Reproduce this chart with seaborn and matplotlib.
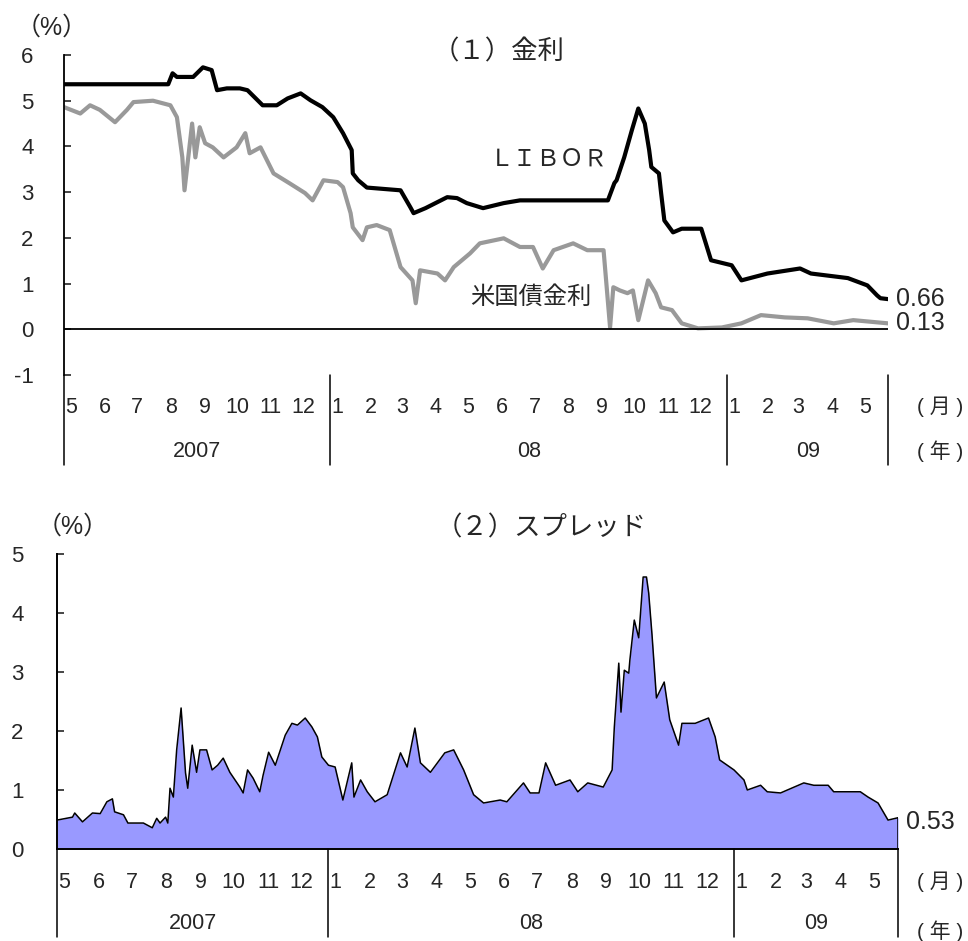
import pandas as pd
import numpy as np
import matplotlib
matplotlib.use('Agg')
import matplotlib.pyplot as plt
import matplotlib.dates as mdates
import matplotlib.transforms as mtransforms
import seaborn as sns

sns.set_style('white')
plt.rcParams['font.family'] = ['Liberation Sans', 'Noto Sans CJK JP']
plt.rcParams['axes.unicode_minus'] = False

# ---- data ----
libor_dates = ['2007-05-01', '2007-08-05', '2007-08-09', '2007-08-13', '2007-08-28', '2007-09-06',
               '2007-09-14', '2007-09-19', '2007-09-28', '2007-10-10', '2007-10-17', '2007-10-31',
               '2007-11-13', '2007-11-23', '2007-12-05', '2007-12-14', '2007-12-25', '2008-01-04',
               '2008-01-13', '2008-01-21', '2008-01-22', '2008-01-27', '2008-02-04', '2008-03-06',
               '2008-03-15', '2008-03-18', '2008-03-29', '2008-04-18', '2008-04-27', '2008-05-06',
               '2008-05-21', '2008-06-09', '2008-06-24', '2008-09-13', '2008-09-19', '2008-09-21',
               '2008-09-28', '2008-10-05', '2008-10-11', '2008-10-17', '2008-10-21', '2008-10-23',
               '2008-10-30', '2008-11-01', '2008-11-04', '2008-11-12', '2008-11-20', '2008-12-08',
               '2008-12-17', '2009-01-05', '2009-01-14', '2009-02-07', '2009-03-09', '2009-03-19',
               '2009-04-22', '2009-05-10', '2009-05-19', '2009-05-22', '2009-05-29']
libor_vals = [5.36, 5.36, 5.60, 5.52, 5.52, 5.73,
              5.67, 5.23, 5.27, 5.27, 5.23, 4.90,
              4.90, 5.05, 5.16, 5.01, 4.86, 4.64,
              4.29, 3.92, 3.41, 3.26, 3.10, 3.04,
              2.67, 2.54, 2.65, 2.89, 2.87, 2.76,
              2.65, 2.76, 2.82, 2.82, 3.20, 3.26,
              3.76, 4.35, 4.83, 4.50, 3.92, 3.55,
              3.41, 2.98, 2.38, 2.12, 2.20, 2.20,
              1.51, 1.40, 1.07, 1.22, 1.33, 1.22,
              1.12, 0.96, 0.74, 0.68, 0.66]

tbill_dates = ['2007-05-01', '2007-05-16', '2007-05-25', '2007-06-03', '2007-06-17', '2007-06-28',
               '2007-07-04', '2007-07-22', '2007-08-07', '2007-08-13', '2007-08-18', '2007-08-20',
               '2007-08-27', '2007-08-30', '2007-09-03', '2007-09-08', '2007-09-15', '2007-09-25',
               '2007-10-07', '2007-10-15', '2007-10-19', '2007-10-29', '2007-11-10', '2007-11-25',
               '2007-12-09', '2007-12-16', '2007-12-26', '2008-01-08', '2008-01-13', '2008-01-20',
               '2008-01-22', '2008-01-31', '2008-02-04', '2008-02-13', '2008-02-25', '2008-03-06',
               '2008-03-17', '2008-03-20', '2008-03-24', '2008-04-09', '2008-04-16', '2008-04-24',
               '2008-05-09', '2008-05-18', '2008-06-09', '2008-06-24', '2008-07-06', '2008-07-15',
               '2008-07-25', '2008-08-12', '2008-08-25', '2008-09-09', '2008-09-15', '2008-09-18',
               '2008-09-24', '2008-10-01', '2008-10-06', '2008-10-11', '2008-10-20', '2008-10-27',
               '2008-11-01', '2008-11-11', '2008-11-20', '2008-12-05', '2008-12-27', '2009-01-14',
               '2009-02-01', '2009-02-23', '2009-03-16', '2009-04-09', '2009-04-27', '2009-05-29']
tbill_vals = [4.86, 4.72, 4.90, 4.80, 4.53, 4.80,
              4.97, 5.00, 4.90, 4.64, 3.76, 3.04,
              4.50, 3.76, 4.42, 4.07, 3.98, 3.76,
              3.98, 4.29, 3.85, 3.98, 3.41, 3.19,
              2.98, 2.82, 3.26, 3.22, 3.11, 2.54,
              2.23, 1.95, 2.23, 2.28, 2.17, 1.36,
              1.07, 0.57, 1.29, 1.22, 1.07, 1.36,
              1.66, 1.88, 1.99, 1.80, 1.80, 1.33,
              1.73, 1.88, 1.73, 1.73, 0.04, 0.92,
              0.85, 0.79, 0.85, 0.20, 1.07, 0.79,
              0.48, 0.42, 0.13, 0.02, 0.04, 0.13,
              0.31, 0.26, 0.24, 0.13, 0.20, 0.13]

spread_dates = ['2007-05-01', '2007-05-15', '2007-05-17', '2007-05-24', '2007-06-02', '2007-06-09',
                '2007-06-15', '2007-06-20', '2007-06-22', '2007-06-30', '2007-07-04', '2007-07-18',
                '2007-07-26', '2007-07-30', '2007-08-02', '2007-08-07', '2007-08-09', '2007-08-11',
                '2007-08-14', '2007-08-17', '2007-08-21', '2007-08-25', '2007-08-27', '2007-08-31',
                '2007-09-04', '2007-09-07', '2007-09-13', '2007-09-18', '2007-09-23', '2007-09-28',
                '2007-10-04', '2007-10-13', '2007-10-16', '2007-10-20', '2007-10-25', '2007-10-31',
                '2007-11-03', '2007-11-08', '2007-11-14', '2007-11-23', '2007-11-29', '2007-12-04',
                '2007-12-11', '2007-12-17', '2007-12-22', '2007-12-26', '2008-01-01', '2008-01-07',
                '2008-01-14', '2008-01-22', '2008-01-24', '2008-01-30', '2008-02-05', '2008-02-12',
                '2008-02-23', '2008-03-06', '2008-03-12', '2008-03-19', '2008-03-24', '2008-04-02',
                '2008-04-15', '2008-04-23', '2008-05-02', '2008-05-11', '2008-05-20', '2008-06-04',
                '2008-06-10', '2008-06-25', '2008-07-01', '2008-07-09', '2008-07-15', '2008-07-24',
                '2008-08-06', '2008-08-13', '2008-08-22', '2008-09-05', '2008-09-13', '2008-09-15',
                '2008-09-19', '2008-09-21', '2008-09-24', '2008-09-28', '2008-09-29', '2008-10-03',
                '2008-10-07', '2008-10-11', '2008-10-14', '2008-10-16', '2008-10-19', '2008-10-23',
                '2008-10-30', '2008-11-04', '2008-11-12', '2008-11-15', '2008-11-27', '2008-12-09',
                '2008-12-15', '2008-12-19', '2009-01-01', '2009-01-10', '2009-01-13', '2009-01-25',
                '2009-01-31', '2009-02-12', '2009-03-05', '2009-03-14', '2009-03-27', '2009-04-01',
                '2009-04-25', '2009-05-02', '2009-05-11', '2009-05-20', '2009-05-29']
spread_vals = [0.49, 0.54, 0.61, 0.46, 0.61, 0.60,
               0.80, 0.85, 0.63, 0.58, 0.44, 0.44,
               0.36, 0.52, 0.44, 0.54, 0.44, 1.03,
               0.88, 1.68, 2.39, 1.29, 1.03, 1.76,
               1.30, 1.68, 1.68, 1.34, 1.42, 1.54,
               1.30, 1.05, 0.95, 1.34, 1.20, 0.97,
               1.25, 1.64, 1.42, 1.93, 2.13, 2.10,
               2.22, 2.07, 1.90, 1.56, 1.42, 1.39,
               0.83, 1.46, 0.88, 1.17, 0.97, 0.80,
               0.92, 1.63, 1.39, 2.05, 1.46, 1.30,
               1.63, 1.68, 1.34, 0.92, 0.78, 0.83,
               0.80, 1.12, 0.95, 0.95, 1.46, 1.08,
               1.17, 0.97, 1.12, 1.05, 1.34, 2.07,
               3.15, 2.32, 3.03, 2.98, 3.20, 3.88,
               3.58, 4.61, 4.61, 4.34, 3.63, 2.56,
               2.83, 2.19, 1.76, 2.13, 2.13, 2.22,
               1.90, 1.51, 1.34, 1.17, 1.00, 1.08,
               0.97, 0.95, 1.12, 1.08, 1.08, 0.97,
               0.97, 0.88, 0.78, 0.49, 0.53]

month_labels = ['5', '6', '7', '8', '9', '10', '11', '12',
                '1', '2', '3', '4', '5', '6', '7', '8', '9', '10', '11', '12',
                '1', '2', '3', '4', '5']
year_labels = ['2007', '08', '09']
year_bounds = ['2007-05-01', '2008-01-01', '2009-01-01', '2009-05-29']

df_libor = pd.DataFrame({'date': pd.to_datetime(libor_dates), 'val': libor_vals})
df_tbill = pd.DataFrame({'date': pd.to_datetime(tbill_dates), 'val': tbill_vals})
df_spread = pd.DataFrame({'date': pd.to_datetime(spread_dates), 'val': spread_vals})

month_starts = pd.date_range('2007-05-01', '2009-05-01', freq='MS')
bounds = pd.to_datetime(year_bounds)
x0, x1 = bounds[0], bounds[-1]

fig = plt.figure(figsize=(9.68, 9.41), dpi=100)
ax1 = fig.add_axes([64/968, 1-375/941, 824/968, 320/941])
ax2 = fig.add_axes([57/968, 1-849/941, 841/968, 295/941])


def date_axis(ax, y_month, y_year, y_sep, y_unit_m, y_unit_y):
    trans = mtransforms.blended_transform_factory(ax.transData, ax.transAxes)
    for m, lab in zip(month_starts, month_labels):
        ax.text(mdates.date2num(m + pd.Timedelta(days=6.5)), y_month, lab, transform=trans,
                ha='center', va='center', fontsize=15.5)
    for i, lab in enumerate(year_labels):
        mid = (mdates.date2num(bounds[i]) + mdates.date2num(bounds[i+1])) / 2
        ax.text(mid, y_year, lab, transform=trans, ha='center', va='center', fontsize=15.5)
    for b in bounds:
        xb = mdates.date2num(b)
        ax.plot([xb, xb], [0, y_sep], transform=trans, color='black', lw=1.1, clip_on=False)
    # unit labels at the right edge of the figure
    tr = mtransforms.blended_transform_factory(fig.transFigure, ax.transAxes)
    ax.text(963/968, y_unit_m, '( 月 )', transform=tr, ha='right', va='center', fontsize=15)
    ax.text(963/968, y_unit_y, '( 年 )', transform=tr, ha='right', va='center', fontsize=15)


# ---- (1) rates ----
sns.lineplot(data=df_tbill, x='date', y='val', ax=ax1, color='#999999', lw=3)
sns.lineplot(data=df_libor, x='date', y='val', ax=ax1, color='black', lw=3)
ax1.axhline(0, color='black', lw=1.3)
ax1.set_xlim(x0, x1)
ax1.set_ylim(-1, 6)
ax1.set_yticks(range(-1, 7))
ax1.set_xticks([])
ax1.set_xlabel('')
ax1.set_ylabel('')
for s in ['top', 'right', 'bottom']:
    ax1.spines[s].set_visible(False)
ax1.spines['left'].set_linewidth(1.3)
ax1.spines['left'].set_color('black')
ax1.tick_params(axis='y', direction='in', length=5, width=1.2, pad=22, labelsize=16, left=True)
date_axis(ax1, -0.10, -0.2375, -0.28, -0.10, -0.2375)

ax1.annotate('0.66', xy=(df_libor['date'].iloc[-1], libor_vals[-1]), xytext=(6, 0),
             textcoords='offset points', ha='left', va='center', fontsize=18)
ax1.annotate('0.13', xy=(df_tbill['date'].iloc[-1], tbill_vals[-1]), xytext=(6, 0),
             textcoords='offset points', ha='left', va='center', fontsize=18)
ax1.text(0.517, 0.669, 'ＬＩＢＯＲ', transform=ax1.transAxes, ha='left', va='center', fontsize=17)
ax1.text(0.493, 0.241, '米国債金利', transform=ax1.transAxes, ha='left', va='center', fontsize=17.5)

fig.text(433/968, 1-52/941, '（１）金利', ha='left', va='center', fontsize=19)
fig.text(16/968, 1-28/941, '（%）', ha='left', va='center', fontsize=18)

# ---- (2) spread ----
ax2.fill_between(df_spread['date'], df_spread['val'], 0, color='#9999FF', lw=0)
sns.lineplot(data=df_spread, x='date', y='val', ax=ax2, color='black', lw=1.1)
ax2.plot([df_spread['date'].iloc[-1]] * 2, [0, spread_vals[-1]], color='black', lw=1.1)
ax2.set_xlim(x0, x1)
ax2.set_ylim(0, 5)
ax2.set_yticks(range(0, 6))
ax2.set_xticks([])
ax2.set_xlabel('')
ax2.set_ylabel('')
for s in ['top', 'right']:
    ax2.spines[s].set_visible(False)
for s in ['left', 'bottom']:
    ax2.spines[s].set_linewidth(1.4)
    ax2.spines[s].set_color('black')
ax2.tick_params(axis='y', direction='in', length=5, width=1.2, pad=24, labelsize=16, left=True)
date_axis(ax2, -0.112, -0.251, -0.298, -0.112, -0.28)

ax2.annotate('0.53', xy=(df_spread['date'].iloc[-1], spread_vals[-1]), xytext=(6, -3),
             textcoords='offset points', ha='left', va='center', fontsize=18)

fig.text(436/968, 1-528/941, '（２）スプレッド', ha='left', va='center', fontsize=19)
fig.text(37/968, 1-527/941, '（%）', ha='left', va='center', fontsize=18)

fig.savefig('out.png', dpi=100)
